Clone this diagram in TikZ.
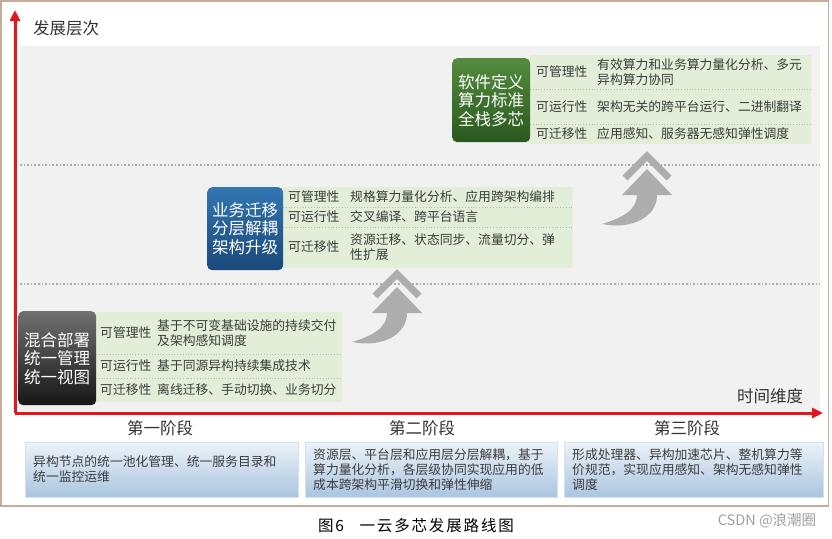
\documentclass[tikz,border=0pt]{standalone}
\usepackage{fontspec}
\setmainfont{Noto Sans CJK SC}
\usepackage{xcolor}
\usepackage{tikz}
\usetikzlibrary{arrows.meta, positioning, shadings}
\definecolor{axisRed}{RGB}{230, 20, 28}
\definecolor{frameTan}{RGB}{200, 172, 155}
\definecolor{panelGray}{RGB}{241, 241, 241}
\definecolor{tabGreen}{RGB}{226, 238, 216}
\definecolor{textGray}{RGB}{60, 60, 60}
\definecolor{arrowGray}{RGB}{173, 173, 173}
\definecolor{stageGreenTop}{RGB}{84, 140, 62}
\definecolor{stageGreenBot}{RGB}{42, 88, 30}
\definecolor{stageBlueTop}{RGB}{50, 118, 178}
\definecolor{stageBlueBot}{RGB}{26, 72, 122}
\definecolor{stageGrayTop}{RGB}{112, 112, 112}
\definecolor{stageGrayBot}{RGB}{22, 22, 22}
\definecolor{boxBlueTop}{RGB}{236, 242, 248}
\definecolor{boxBlueBot}{RGB}{170, 197, 224}

\begin{document}
\begin{tikzpicture}[x=1pt, y=-1pt,
				stage_box/.style  = {rounded corners=5pt, anchor=north west, inner sep=0pt,
					align=center, text=white, font=\fontsize{16.5}{18.5}\selectfont},
				attr_tab/.style   = {fill=tabGreen, anchor=north west, inner sep=0pt},
				attr_name/.style  = {anchor=west, inner sep=0pt, text=textGray,
					font=\fontsize{12.8}{15}\selectfont},
				attr_text/.style  = {attr_name, align=left},
				row_sep/.style    = {draw=gray!55, dotted, line width=0.8pt},
				level_sep/.style  = {draw=gray!65, dotted, line width=1.6pt},
				axis/.style       = {draw=axisRed, line width=3pt, -{Triangle[width=10pt, length=11pt]}},
				axis_label/.style = {inner sep=0pt, text=black!80, font=\fontsize{16.5}{18}\selectfont},
				phase_box/.style  = {anchor=north west, inner sep=0pt, top color=boxBlueTop,
					bottom color=boxBlueBot, draw=boxBlueBot!50!white, line width=0.4pt},
				phase_text/.style = {anchor=west, inner sep=0pt, align=left, text=textGray,
					font=\fontsize{12.8}{15}\selectfont},
				chevron/.style    = {draw=arrowGray, line width=7pt},
				rise/.style       = {fill=arrowGray}
				]
				\useasboundingbox (0,0) rectangle (832,538);
				\draw[frameTan, line width=1.5pt] (0.75,0.75) rectangle (828.5,506);
				\fill[panelGray] (20,46) rectangle (820,411);
				\draw[level_sep] (20,165) -- (820,165);
				\draw[level_sep] (20,284) -- (820,284);
				
				% axes
				\coordinate (origin) at (15,413);
				\coordinate (ytop) at (15,10);
				\coordinate (xend) at (823,413);
				\draw[axis] (origin) -- (ytop);
				\draw[axis] (origin) -- (xend);
				\node[axis_label, anchor=west] (ylab) at (33,28) {发展层次};
				\node[axis_label, anchor=west] (xlab) at (737,396) {时间维度};
				
				% stage 3
				\node[attr_tab, minimum width=281pt, minimum height=89pt] (s3tab) at (530,55) {};
				\draw[row_sep] (530,89) -- (811,89);
				\draw[row_sep] (530,124) -- (811,124);
				\node[stage_box, minimum width=78pt, minimum height=84pt,
				top color=stageGreenTop, bottom color=stageGreenBot] (s3box) at (452,58)
				{软件定义\\算力标准\\全栈多芯};
				\node[attr_name] (s3mgmt) at (536,72) {可管理性};
				\node[attr_text] (s3mgmtTxt) at (597,72) {有效算力和业务算力量化分析、多元\\异构算力协同};
				\node[attr_name] (s3run) at (536,107) {可运行性};
				\node[attr_text] (s3runTxt) at (597,107) {架构无关的跨平台运行、二进制翻译};
				\node[attr_name] (s3mig) at (536,134) {可迁移性};
				\node[attr_text] (s3migTxt) at (597,134) {应用感知、服务器无感知弹性调度};
				
				% stage 2
				\node[attr_tab, minimum width=290pt, minimum height=81pt] (s2tab) at (283,187) {};
				\draw[row_sep] (283,207) -- (573,207);
				\draw[row_sep] (283,227) -- (573,227);
				\node[stage_box, minimum width=76pt, minimum height=83pt,
				top color=stageBlueTop, bottom color=stageBlueBot] (s2box) at (207,187)
				{业务迁移\\分层解耦\\架构升级};
				\node[attr_name] (s2mgmt) at (288,197) {可管理性};
				\node[attr_text] (s2mgmtTxt) at (350,197) {规格算力量化分析、应用跨架构编排};
				\node[attr_name] (s2run) at (288,217) {可运行性};
				\node[attr_text] (s2runTxt) at (350,217) {交叉编译、跨平台语言};
				\node[attr_name] (s2mig) at (288,247) {可迁移性};
				\node[attr_text] (s2migTxt) at (350,247) {资源迁移、状态同步、流量切分、弹\\性扩展};
				
				% stage 1
				\node[attr_tab, minimum width=246pt, minimum height=90pt] (s1tab) at (96,312) {};
				\draw[row_sep] (96,354) -- (342,354);
				\draw[row_sep] (96,378) -- (342,378);
				\node[stage_box, minimum width=78pt, minimum height=94pt,
				top color=stageGrayTop, bottom color=stageGrayBot] (s1box) at (18,311)
				{混合部署\\统一管理\\统一视图};
				\node[attr_name] (s1mgmt) at (100,333) {可管理性};
				\node[attr_text] (s1mgmtTxt) at (157,333) {基于不可变基础设施的持续交付\\及架构感知调度};
				\node[attr_name] (s1run) at (100,366) {可运行性};
				\node[attr_text] (s1runTxt) at (157,366) {基于同源异构持续集成技术};
				\node[attr_name] (s1mig) at (100,390) {可迁移性};
				\node[attr_text] (s1migTxt) at (157,390) {离线迁移、手动切换、业务切分};
				
				% rising arrows
				\begin{scope}[shift={(397,270)}]
					\draw[chevron] (-22,26) -- (0,4) -- (22,26);
					\fill[rise] (-25,43) -- (0,17) -- (25,43) -- (10,43) .. controls (10,65) and (-15,78) .. (-45,72)
					.. controls (-25,66) and (-10,58) .. (-10,43) -- cycle;
				\end{scope}
				\begin{scope}[shift={(647,152)}]
					\draw[chevron] (-22,26) -- (0,4) -- (22,26);
					\fill[rise] (-25,43) -- (0,17) -- (25,43) -- (10,43) .. controls (10,65) and (-15,78) .. (-45,72)
					.. controls (-25,66) and (-10,58) .. (-10,43) -- cycle;
				\end{scope}
				
				% phases
				\node[axis_label] (p1) at (160,428) {第一阶段};
				\node[axis_label] (p2) at (422,428) {第二阶段};
				\node[axis_label] (p3) at (687,428) {第三阶段};
				\node[phase_box, minimum width=273pt, minimum height=55pt] (p1box) at (25,442) {};
				\node[phase_box, minimum width=252pt, minimum height=55pt] (p2box) at (305,442) {};
				\node[phase_box, minimum width=259pt, minimum height=55pt] (p3box) at (564,442) {};
				\node[phase_text] (p1txt) at (33,469.5) {异构节点的统一池化管理、统一服务目录和\\统一监控运维};
				\node[phase_text] (p2txt) at (313,469.5) {资源层、平台层和应用层分层解耦，基于\\算力量化分析，各层级协同实现应用的低\\成本跨架构平滑切换和弹性伸缩};
				\node[phase_text] (p3txt) at (572,469.5) {形成处理器、异构加速芯片、整机算力等\\价规范，实现应用感知、架构无感知弹性\\调度};
				
				\node[inner sep=0pt, font=\fontsize{15.5}{16}\selectfont\addfontfeature{LetterSpace=12}]
				(caption) at (416,526) {图6\quad 一云多芯发展路线图};
				\node[inner sep=0pt, text=gray!75, font=\fontsize{14.5}{15}\selectfont]
				(mark) at (767,521) {CSDN @浪潮圈};
			\end{tikzpicture}
\end{document}
